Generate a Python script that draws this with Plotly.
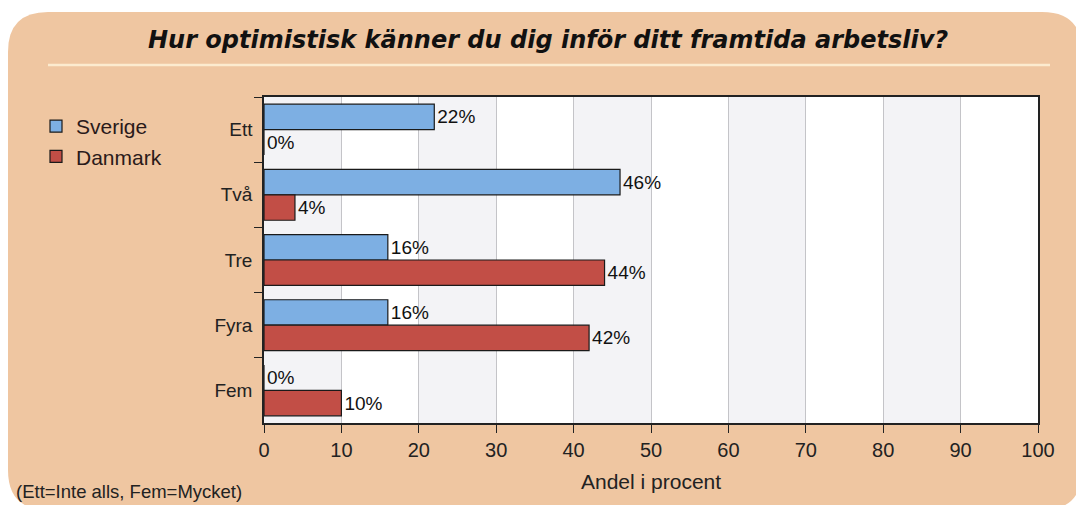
import plotly.graph_objects as go

categories = ["Ett", "Två", "Tre", "Fyra", "Fem"]
sverige = [22, 46, 16, 16, 0]
danmark = [0, 4, 44, 42, 10]
series_names = ["Sverige", "Danmark"]
x_ticks = [0, 10, 20, 30, 40, 50, 60, 70, 80, 90, 100]

W, H = 1076, 505
L, R, T, B = 264, 38, 97, 82
pw, ph = W - L - R, H - T - B

def px(x):
    return (x - L) / pw

def py(y):
    return (H - B - y) / ph

FONT = "Liberation Sans"
fig = go.Figure()
fig.add_trace(go.Bar(
    y=categories, x=sverige, name=series_names[0], orientation="h",
    marker=dict(color="#7DAFE3", line=dict(color="#1a1a1a", width=1.2)),
    text=[f"{v}%" for v in sverige], textposition="outside",
    textfont=dict(size=19, color="#111", family=FONT), cliponaxis=False,
))
fig.add_trace(go.Bar(
    y=categories, x=danmark, name=series_names[1], orientation="h",
    marker=dict(color="#C24E46", line=dict(color="#1a1a1a", width=1.2)),
    text=[f"{v}%" for v in danmark], textposition="outside",
    textfont=dict(size=19, color="#111", family=FONT), cliponaxis=False,
))

shapes = []
x0, x1, y0, y1, r = 8, 1082, 12, 510, 40
path = (f"M {px(x0+r)},{py(y0)} L {px(x1-r)},{py(y0)} Q {px(x1)},{py(y0)} {px(x1)},{py(y0+r)} "
        f"L {px(x1)},{py(y1-r)} Q {px(x1)},{py(y1)} {px(x1-r)},{py(y1)} "
        f"L {px(x0+r)},{py(y1)} Q {px(x0)},{py(y1)} {px(x0)},{py(y1-r)} "
        f"L {px(x0)},{py(y0+r)} Q {px(x0)},{py(y0)} {px(x0+r)},{py(y0)} Z")
shapes.append(dict(type="path", xref="paper", yref="paper", path=path,
                   fillcolor="#EFC6A1", line=dict(width=0), layer="below"))
shapes.append(dict(type="rect", xref="paper", yref="paper", x0=0, x1=1, y0=0, y1=1,
                   fillcolor="white", line=dict(width=0), layer="below"))
for i in range(0, 100, 20):
    shapes.append(dict(type="rect", xref="x", yref="paper", x0=i, x1=i + 10, y0=0, y1=1,
                       fillcolor="#F3F3F6", line=dict(width=0), layer="below"))
shapes.append(dict(type="line", xref="paper", yref="paper", x0=px(48), x1=px(1050),
                   y0=py(65), y1=py(65), line=dict(color="#FCEBCF", width=2.5)))

fig.update_layout(
    width=W, height=H,
    margin=dict(l=L, r=R, t=T, b=B),
    paper_bgcolor="white", plot_bgcolor="rgba(0,0,0,0)",
    barmode="group", bargap=0.22, bargroupgap=0,
    shapes=shapes,
    showlegend=True,
    legend=dict(x=px(36), y=py(106), xanchor="left", yanchor="top",
                font=dict(size=21, family=FONT, color="#2a1a1a"),
                bgcolor="rgba(0,0,0,0)", tracegroupgap=0, itemwidth=30),
    font=dict(family=FONT, color="#222"),
    annotations=[
        dict(text="<b><i>Hur optimistisk känner du dig inför ditt framtida arbetsliv?</i></b>",
             xref="paper", yref="paper", x=px(548), y=py(40), xanchor="center", yanchor="middle",
             showarrow=False, font=dict(size=24, family="DejaVu Sans", color="#111")),
        dict(text="Andel i procent", xref="paper", yref="paper", x=px(651), y=py(481),
             xanchor="center", yanchor="middle", showarrow=False,
             font=dict(size=21, family=FONT, color="#222")),
        dict(text="(Ett=Inte alls, Fem=Mycket)", xref="paper", yref="paper", x=px(14), y=py(492),
             xanchor="left", yanchor="middle", showarrow=False,
             font=dict(size=18.5, family=FONT, color="#222")),
    ],
)
fig.update_xaxes(range=[0, 100], tickvals=x_ticks, showgrid=True, gridcolor="#C4C4C8",
                 gridwidth=1, showline=True, linecolor="#222", linewidth=1.5, mirror=True,
                 ticks="outside", ticklen=8, tickcolor="#222", zeroline=False,
                 tickfont=dict(size=20, family=FONT, color="#222"))
fig.update_yaxes(autorange="reversed", showline=True, linecolor="#222", linewidth=1.5, mirror=True,
                 ticks="outside", tickson="boundaries", ticklen=8, tickcolor="#222",
                 ticklabelstandoff=6,
                 showgrid=False, tickfont=dict(size=19, family=FONT, color="#222"))

fig.write_html("out.html", config={"displayModeBar": False},
               post_script="document.body.style.margin='0';document.body.style.overflow='hidden';")
